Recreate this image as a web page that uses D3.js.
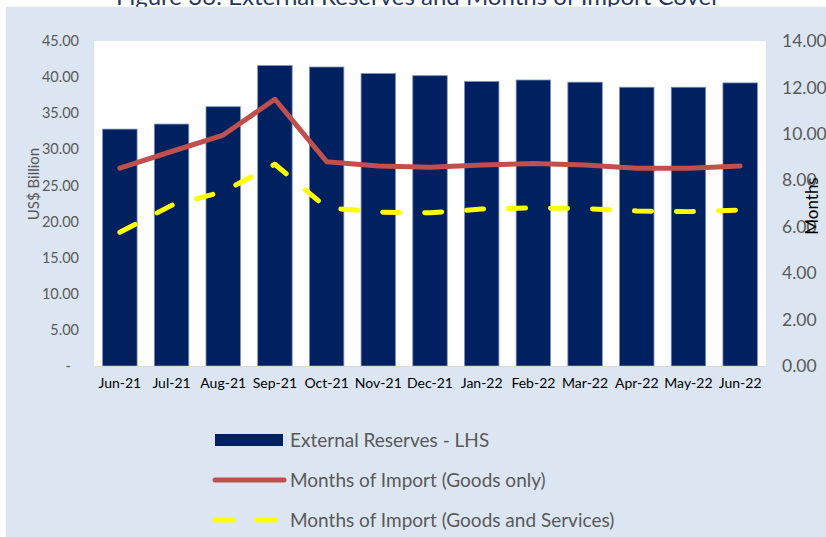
<!DOCTYPE html>
<html>
<head>
<meta charset="utf-8">
<script src="https://cdn.jsdelivr.net/npm/d3@7"></script>
<style>
  html, body { margin: 0; padding: 0; background: #ffffff; }
  svg { display: block; }
</style>
</head>
<body>
<svg id="chart" width="826" height="537"></svg>
<script>
// Monthly data, Jun-21 to Jun-22
const months = ["Jun-21","Jul-21","Aug-21","Sep-21","Oct-21","Nov-21","Dec-21","Jan-22","Feb-22","Mar-22","Apr-22","May-22","Jun-22"];
const reserves = [32.8, 33.5, 35.9, 41.6, 41.4, 40.5, 40.2, 39.4, 39.6, 39.3, 38.6, 38.6, 39.2];        // US$ billion
const monthsGoods = [8.52, 9.24, 9.95, 11.49, 8.80, 8.62, 8.56, 8.66, 8.72, 8.66, 8.52, 8.52, 8.62];    // months of import, goods only
const monthsGoodsServices = [5.76, 6.92, 7.51, 8.69, 6.82, 6.63, 6.60, 6.76, 6.81, 6.78, 6.68, 6.65, 6.72]; // goods and services
const leftTicks = [0, 5, 10, 15, 20, 25, 30, 35, 40, 45];
const rightTicks = [0, 2, 4, 6, 8, 10, 12, 14];
const legendItems = ["External Reserves - LHS", "Months of Import (Goods only)", "Months of Import (Goods and Services)"];
const titleText = "Figure 36: External Reserves and Months of Import Cover";

const svg = d3.select("#chart");
const font = "Lato, 'Open Sans', sans-serif";
const plot = { left: 94, right: 766, top: 41, bottom: 366 };

// Title sits partly above the panel
svg.append("text")
  .attr("x", 418).attr("y", 4.5)
  .attr("text-anchor", "middle")
  .attr("font-family", font).attr("font-size", 24)
  .attr("fill", "#1f3864")
  .text(titleText);

// Light blue panel
svg.append("rect")
  .attr("x", 6).attr("y", 6.7).attr("width", 830).attr("height", 540)
  .attr("fill", "#dce6f2");

// White plot area
svg.append("rect")
  .attr("x", plot.left).attr("y", plot.top)
  .attr("width", plot.right - plot.left).attr("height", plot.bottom - plot.top)
  .attr("fill", "#ffffff");

const x = d3.scaleBand().domain(months).range([plot.left, plot.right])
  .paddingInner(0.333).paddingOuter(0.1667);
const yL = d3.scaleLinear().domain([0, 45]).range([plot.bottom, plot.top]);
const yR = d3.scaleLinear().domain([0, 14]).range([plot.bottom, plot.top]);

// Bars
svg.append("g").selectAll("rect").data(reserves).join("rect")
  .attr("x", (d, i) => x(months[i]))
  .attr("y", d => yL(d))
  .attr("width", x.bandwidth())
  .attr("height", d => yL(0) - yL(d))
  .attr("fill", "#002060")
  .attr("stroke", "#7f93b8").attr("stroke-width", 0.8);

// Category axis baseline
svg.append("line")
  .attr("x1", plot.left).attr("x2", plot.right)
  .attr("y1", plot.bottom + 0.5).attr("y2", plot.bottom + 0.5)
  .attr("stroke", "#d9d9d9").attr("stroke-width", 1);

// Left axis
const leftAxis = d3.axisLeft(yL).tickValues(leftTicks).tickSize(0).tickPadding(0)
  .tickFormat(d => d === 0 ? "-" : d3.format(".2f")(d));
const gL = svg.append("g").attr("transform", `translate(${plot.left - 15},0)`).call(leftAxis);
gL.select(".domain").remove();
gL.selectAll("text").attr("font-family", font).attr("font-size", 14.5).attr("fill", "#595959");
gL.selectAll(".tick").filter(d => d === 0).select("text").attr("dx", -8);

// Right axis
const rightAxis = d3.axisRight(yR).tickValues(rightTicks).tickSize(0).tickPadding(0)
  .tickFormat(d3.format(".2f"));
const gR = svg.append("g").attr("transform", `translate(782,0)`).call(rightAxis);
gR.select(".domain").remove();
gR.selectAll("text").attr("font-family", font).attr("font-size", 17.5).attr("fill", "#595959");

// Bottom axis labels
const bottomAxis = d3.axisBottom(x).tickSize(0).tickPadding(0);
const gB = svg.append("g").attr("transform", `translate(0,${plot.bottom + 12})`).call(bottomAxis);
gB.select(".domain").remove();
gB.selectAll("text").attr("font-family", font).attr("font-size", 14).attr("fill", "#000000");

// Axis titles
svg.append("text")
  .attr("transform", "translate(39,184) rotate(-90)")
  .attr("text-anchor", "middle")
  .attr("font-family", font).attr("font-size", 15).attr("fill", "#595959")
  .text("US$ Billion");
svg.append("text")
  .attr("transform", "translate(818,206) rotate(-90)")
  .attr("text-anchor", "middle")
  .attr("font-family", font).attr("font-size", 17).attr("fill", "#000000")
  .text("Months");

// Lines
const cx = i => x(months[i]) + x.bandwidth() / 2;
const lineGen = d3.line().x((d, i) => cx(i)).y(d => yR(d));
svg.append("path").datum(monthsGoods)
  .attr("d", lineGen)
  .attr("fill", "none").attr("stroke", "#c0504d").attr("stroke-width", 5)
  .attr("stroke-linejoin", "round").attr("stroke-linecap", "round");
svg.append("path").datum(monthsGoodsServices)
  .attr("d", lineGen)
  .attr("fill", "none").attr("stroke", "#ffff00").attr("stroke-width", 5)
  .attr("stroke-dasharray", "17,25")
  .attr("stroke-linejoin", "round").attr("stroke-linecap", "round");

// Legend
const legend = svg.append("g");
const rowY = [440, 480, 520];
legend.append("rect").attr("x", 215).attr("y", 434).attr("width", 68).attr("height", 12).attr("fill", "#002060");
legend.append("line").attr("x1", 215).attr("x2", 284).attr("y1", rowY[1]).attr("y2", rowY[1])
  .attr("stroke", "#c0504d").attr("stroke-width", 5).attr("stroke-linecap", "round");
legend.append("line").attr("x1", 215).attr("x2", 284).attr("y1", rowY[2]).attr("y2", rowY[2])
  .attr("stroke", "#ffff00").attr("stroke-width", 5).attr("stroke-linecap", "round")
  .attr("stroke-dasharray", "18,24");
legend.selectAll("text.lg").data(legendItems).join("text")
  .attr("class", "lg")
  .attr("x", 290).attr("y", (d, i) => rowY[i])
  .attr("dy", "0.35em")
  .attr("font-family", font).attr("font-size", 19).attr("fill", "#595959")
  .text(d => d);
</script>
</body>
</html>
